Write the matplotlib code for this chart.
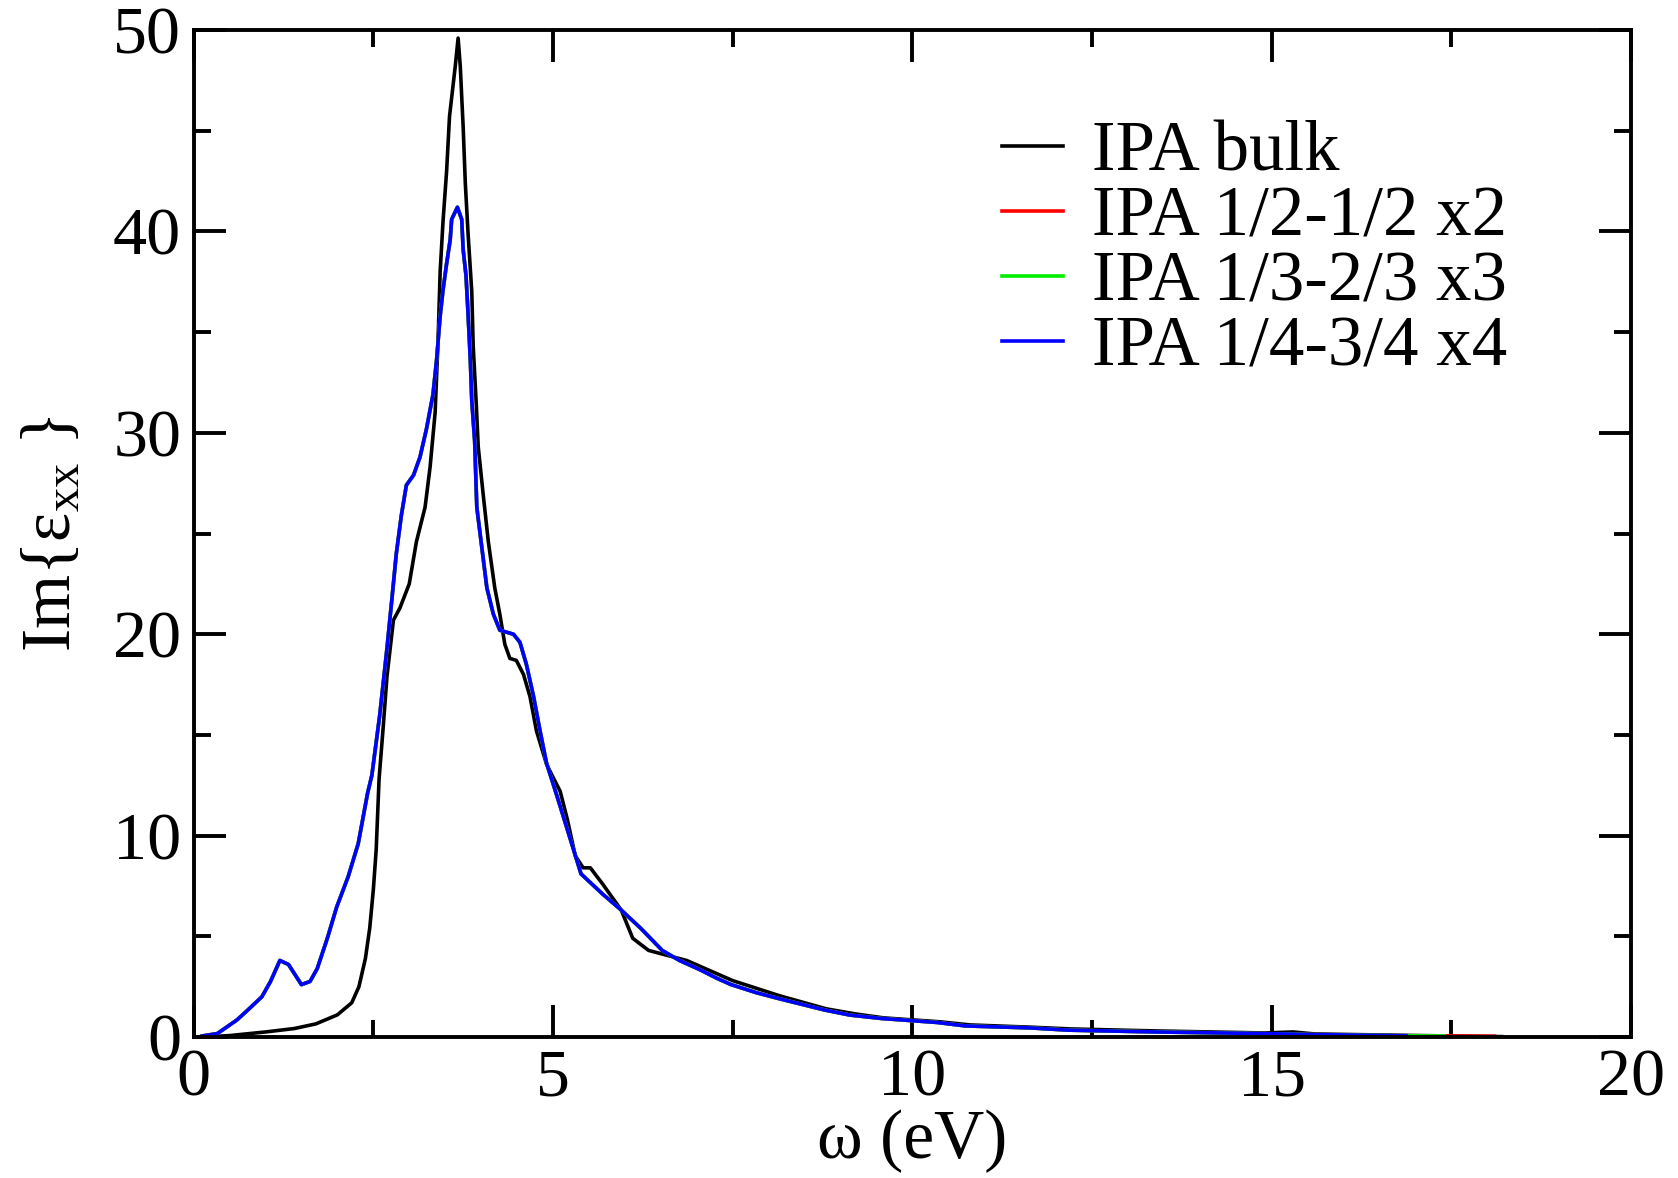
import matplotlib
matplotlib.use("Agg")
import matplotlib.pyplot as plt
from matplotlib.ticker import MultipleLocator

plt.rcParams["font.family"] = ["Liberation Serif", "DejaVu Serif"]
plt.rcParams["mathtext.fontset"] = "custom"
plt.rcParams["mathtext.rm"] = "Liberation Serif"
plt.rcParams["mathtext.it"] = "Liberation Serif:italic"

# --- bulk IPA spectrum ---
bulk_x = [0.15, 0.5, 1.0, 1.4, 1.7, 2.0, 2.2, 2.3, 2.39, 2.45, 2.5, 2.54, 2.58, 2.64,
          2.69, 2.78, 2.87, 3.0, 3.1, 3.22, 3.29, 3.36, 3.40, 3.43, 3.47, 3.52, 3.56,
          3.64, 3.68, 3.71, 3.75, 3.78, 3.82, 3.87, 3.89, 3.93, 3.96, 4.03, 4.10, 4.19,
          4.26, 4.33, 4.40, 4.49, 4.59, 4.68, 4.77, 4.91, 5.0, 5.1, 5.2, 5.31, 5.42,
          5.52, 5.69, 5.95, 6.11, 6.33, 6.54, 6.86, 7.5, 8.15, 8.8, 9.2, 9.6, 10.4,
          10.8, 11.7, 12.2, 13.4, 14.9, 15.3, 15.6, 16.9, 17.5, 18.2]
bulk_y = [0.0, 0.07, 0.25, 0.42, 0.65, 1.1, 1.7, 2.5, 3.9, 5.4, 7.3, 9.3, 12.8, 15.5,
          17.9, 20.7, 21.3, 22.5, 24.6, 26.3, 28.3, 31.0, 34.5, 38.0, 40.5, 43.0, 45.7,
          48.2, 49.6, 48.2, 45.2, 42.4, 39.8, 37.0, 34.3, 31.6, 29.3, 26.9, 24.6, 22.3,
          21.0, 19.5, 18.8, 18.7, 18.0, 16.9, 15.2, 13.55, 12.9, 12.2, 10.8, 9.0, 8.4,
          8.4, 7.6, 6.3, 4.9, 4.3, 4.1, 3.8, 2.8, 2.05, 1.4, 1.15, 0.95, 0.75,
          0.6, 0.48, 0.4, 0.3, 0.2, 0.25, 0.15, 0.08, 0.05, 0.02]

# --- supercell spectra (the three scaled curves lie on top of each other) ---
split_x = [0.12, 0.33, 0.6, 0.73, 0.95, 1.07, 1.2, 1.32, 1.5, 1.62, 1.72, 1.86, 1.99,
           2.15, 2.29, 2.42, 2.48, 2.59, 2.69, 2.76, 2.82, 2.89, 2.96, 3.06, 3.15, 3.24,
           3.33, 3.38, 3.43, 3.47, 3.52, 3.57, 3.59, 3.67, 3.73, 3.75, 3.79, 3.82, 3.85,
           3.87, 3.91, 3.94, 4.01, 4.08, 4.17, 4.26, 4.45, 4.54, 4.63, 4.73, 4.82, 4.91,
           5.07, 5.39, 5.69, 5.95, 6.22, 6.52, 6.76, 7.04, 7.29, 7.48, 7.83, 8.15, 8.78,
           9.13, 9.57, 10.35, 10.74, 11.65, 12.17, 13.39, 14.87, 15.57, 16.87]
split_y = [0.05, 0.17, 0.84, 1.26, 2.0, 2.76, 3.8, 3.6, 2.6, 2.76, 3.4, 4.9, 6.45,
           7.96, 9.6, 12.1, 13.0, 16.0, 19.3, 21.8, 24.0, 25.9, 27.4, 27.9, 28.8, 30.2,
           31.9, 33.6, 35.8, 37.1, 38.4, 39.6, 40.6, 41.2, 40.6, 39.1, 37.8, 35.8, 33.6,
           31.6, 29.6, 26.3, 24.3, 22.3, 21.0, 20.2, 20.0, 19.6, 18.5, 16.9, 15.2, 13.6,
           11.8, 8.1, 7.1, 6.3, 5.4, 4.3, 3.8, 3.35, 2.9, 2.6, 2.2, 1.9, 1.34,
           1.09, 0.92, 0.72, 0.55, 0.45, 0.34, 0.25, 0.17, 0.12, 0.06]
red_tail_x = [17.45, 18.1]
red_tail_y = [0.05, 0.04]
green_tail_x = [17.4]
green_tail_y = [0.05]

labels = ["IPA bulk", "IPA 1/2-1/2 x2", "IPA 1/3-2/3 x3", "IPA 1/4-3/4 x4"]

fig = plt.figure(figsize=(16.78, 11.78), dpi=100)
ax = fig.add_axes([0.1154, 0.1197, 0.8566, 0.8548])

lw = 2.6
ax.plot(bulk_x, bulk_y, color="black", lw=lw, label=labels[0])
ax.plot(split_x + red_tail_x, split_y + red_tail_y, color="#ff0000", lw=lw, label=labels[1])
ax.plot(split_x + green_tail_x, split_y + green_tail_y, color="#00ee00", lw=lw, label=labels[2])
ax.plot(split_x, split_y, color="#0000ff", lw=lw, label=labels[3])

ax.set_xlim(0, 20)
ax.set_ylim(0, 50)
ax.xaxis.set_major_locator(MultipleLocator(5))
ax.xaxis.set_minor_locator(MultipleLocator(2.5))
ax.yaxis.set_major_locator(MultipleLocator(10))
ax.yaxis.set_minor_locator(MultipleLocator(5))
ax.tick_params(which="both", direction="in", top=True, right=True, width=2.8,
               labelsize=49)
ax.tick_params(axis="y", pad=9)
ax.tick_params(axis="x", pad=8)
ax.tick_params(which="major", length=23)
ax.tick_params(which="minor", length=12)
for sp in ax.spines.values():
    sp.set_linewidth(2.8)

ax.set_xlabel("ω (eV)", fontsize=50, labelpad=0)
ax.set_ylabel(r"Im{ε$_{\rm xx}$ }", fontsize=50, labelpad=20)

leg = ax.legend(loc="upper left", bbox_to_anchor=(0.543, 0.938), frameon=False,
                fontsize=51, handlelength=0.85, handletextpad=0.42,
                labelspacing=0.0, borderaxespad=0.0)

fig.savefig("out.png", dpi=100)
